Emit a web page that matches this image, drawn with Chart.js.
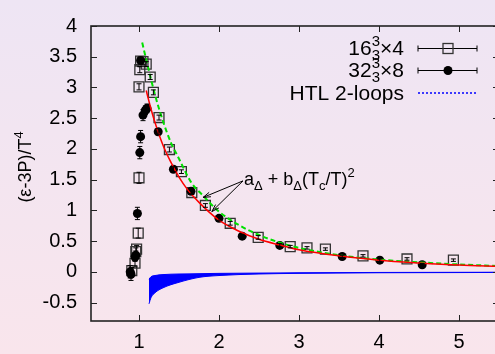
<!DOCTYPE html>
<html>
<head>
<meta charset="utf-8">
<script src="https://cdn.jsdelivr.net/npm/chart.js@4/dist/chart.umd.min.js"></script>
<style>
  html, body { margin: 0; padding: 0; overflow: hidden; background: #f4e6f0; }
  #wrap { position: absolute; left: 0; top: 0; width: 510px; height: 354px; }
</style>
</head>
<body>
<div id="wrap"><canvas id="chart" width="510" height="354"></canvas></div>
<script>
// 16^3 x 4 lattice (open squares)
const sqX   = [0.91, 0.95, 0.96, 0.97, 0.99, 1.00, 1.00, 1.01, 1.02, 1.05, 1.09, 1.14, 1.18, 1.25, 1.38, 1.53, 1.66, 1.83, 2.14, 2.49, 2.89, 3.10, 3.33, 3.80, 4.35, 4.93];
const sqY   = [0.02, 0.14, 0.33, 0.37, 0.63, 1.53, 3.01, 3.29, 3.43, 3.42, 3.38, 3.17, 2.92, 2.51, 1.99, 1.63, 1.29, 1.08, 0.79, 0.56, 0.41, 0.39, 0.37, 0.26, 0.21, 0.19];
const sqErr = [0.05, 0.06, 0.06, 0.06, 0.08, 0.09, 0.05, 0.05, 0.05, 0.04, 0.04, 0.04, 0.04, 0.04, 0.04, 0.03, 0.03, 0.03, 0.03, 0.03, 0.02, 0.02, 0.02, 0.02, 0.02, 0.02];

// 32^3 x 8 lattice (filled circles)
const ciX   = [0.89, 0.90, 0.95, 0.96, 0.98, 1.01, 1.02, 1.02, 1.05, 1.08, 1.10, 1.24, 1.43, 1.65, 2.00, 2.29, 2.76, 3.54, 4.01, 4.54];
const ciY   = [0.00, -0.04, 0.24, 0.27, 0.95, 1.94, 2.20, 3.44, 2.55, 2.63, 2.66, 2.28, 1.67, 1.31, 0.87, 0.58, 0.43, 0.25, 0.19, 0.115];
const ciErr = [0.10, 0.10, 0.07, 0.07, 0.10, 0.10, 0.10, 0.05, 0.09, 0.07, 0.07, 0.05, 0.04, 0.04, 0.04, 0.03, 0.03, 0.02, 0.02, 0.02];

// fit curves a + b (Tc/T)^2
const redX   = [1.09, 1.15, 1.2, 1.3, 1.4, 1.5, 1.6, 1.75, 2.0, 2.25, 2.5, 2.75, 3.0, 3.5, 4.0, 4.5, 5.0, 5.5];
const redY   = [2.95, 2.65, 2.43, 2.06, 1.78, 1.54, 1.35, 1.13, 0.84, 0.66, 0.53, 0.44, 0.36, 0.26, 0.19, 0.145, 0.11, 0.09];
const greenX = [1.04, 1.1, 1.2, 1.3, 1.4, 1.5, 1.65, 1.8, 2.0, 2.25, 2.5, 2.75, 3.0, 3.5, 4.0, 4.5, 5.0, 5.5];
const greenY = [3.73, 3.40, 2.88, 2.45, 2.10, 1.84, 1.46, 1.24, 0.98, 0.76, 0.60, 0.48, 0.39, 0.27, 0.20, 0.155, 0.12, 0.095];

// HTL 2-loop band
const htlX      = [1.125, 1.15, 1.2, 1.3, 1.5, 1.75, 2.0, 2.5, 3.0, 4.0, 5.0, 5.5];
const htlTop    = [-0.12, -0.08, -0.06, -0.045, -0.035, -0.03, -0.025, -0.02, -0.015, -0.01, -0.008, -0.007];
const htlBottom = [-0.52, -0.42, -0.34, -0.26, -0.17, -0.09, -0.06, -0.035, -0.025, -0.015, -0.012, -0.01];

const xTicks = [1, 2, 3, 4, 5];
const yTicks = [-0.5, 0, 0.5, 1, 1.5, 2, 2.5, 3, 3.5, 4];

// ^ = superscript, _ = subscript (a _ right after a ^ sits under it)
const legendLabels = ['16^3_3×4', '32^3_3×8', 'HTL 2-loops'];
const fitLabel = 'a_Δ + b_Δ(T_c/T)^2';
const yTitle = '(ε-3P)/T^4';

const FONT = '"Liberation Sans", Arial, sans-serif';

const pts = (xs, ys) => xs.map((x, i) => ({ x: x, y: ys[i] }));

function richParts(str) {
  const parts = [];
  for (let i = 0; i < str.length; i++) {
    const c = str[i];
    if ((c === '^' || c === '_') && i + 1 < str.length) {
      const prev = parts[parts.length - 1];
      const p = { t: str[i + 1], mode: c === '^' ? 'sup' : 'sub' };
      if (prev && prev.mode === 'sup' && p.mode === 'sub') p.overlay = true;
      parts.push(p);
      i++;
    } else {
      parts.push({ t: c, mode: 'n' });
    }
  }
  return parts;
}

// draws rich text with baseline y; align 'left' | 'right' | 'center'
function drawRich(ctx, str, x, y, size, align) {
  const small = Math.round(size * 0.72);
  let w = 0, prevX = 0;
  const items = richParts(str).map(p => {
    const fs = p.mode === 'n' ? size : small;
    ctx.font = fs + 'px ' + FONT;
    const pw = ctx.measureText(p.t).width;
    let px;
    if (p.overlay) { px = prevX; w = Math.max(w, px + pw); }
    else { px = w; w += pw; }
    prevX = px;
    return { t: p.t, mode: p.mode, fs: fs, px: px };
  });
  let x0 = x;
  if (align === 'right') x0 = x - w;
  if (align === 'center') x0 = x - w / 2;
  ctx.textAlign = 'left';
  ctx.textBaseline = 'alphabetic';
  items.forEach(it => {
    ctx.font = it.fs + 'px ' + FONT;
    let dy = 0;
    if (it.mode === 'sup') dy = -size * 0.42;
    if (it.mode === 'sub') dy = size * 0.26;
    ctx.fillText(it.t, x0 + it.px, y + dy);
  });
}

const backdrop = {
  id: 'backdrop',
  beforeDraw(chart) {
    const ctx = chart.ctx;
    const g = ctx.createLinearGradient(0, 0, 0, chart.height);
    g.addColorStop(0, '#eee5f4');
    g.addColorStop(1, '#f9e5ec');
    ctx.save();
    ctx.fillStyle = g;
    ctx.fillRect(0, 0, chart.width, chart.height);
    ctx.restore();
  }
};

const errorBars = {
  id: 'errorBars',
  afterDatasetsDraw(chart) {
    const ctx = chart.ctx;
    const ys = chart.scales.y;
    ctx.save();
    ctx.strokeStyle = '#000';
    ctx.lineWidth = 1;
    chart.data.datasets.forEach((ds, di) => {
      if (!ds.errors) return;
      const meta = chart.getDatasetMeta(di);
      meta.data.forEach((el, i) => {
        const v = ds.data[i].y, e = ds.errors[i];
        const px = el.x;
        const y1 = ys.getPixelForValue(v + e), y2 = ys.getPixelForValue(v - e);
        ctx.beginPath();
        ctx.moveTo(px, y1); ctx.lineTo(px, y2);
        ctx.moveTo(px - 2.5, y1); ctx.lineTo(px + 2.5, y1);
        ctx.moveTo(px - 2.5, y2); ctx.lineTo(px + 2.5, y2);
        ctx.stroke();
      });
    });
    ctx.restore();
  }
};

const frame = {
  id: 'frame',
  afterDraw(chart) {
    const ctx = chart.ctx;
    const a = chart.chartArea;
    const xs = chart.scales.x, ys = chart.scales.y;
    ctx.save();
    ctx.strokeStyle = '#222';
    ctx.lineWidth = 1;
    ctx.beginPath();
    xTicks.forEach(v => {
      const p = Math.round(xs.getPixelForValue(v)) + 0.5;
      ctx.moveTo(p, a.bottom); ctx.lineTo(p, a.bottom - 6);
      ctx.moveTo(p, a.top); ctx.lineTo(p, a.top + 6);
    });
    yTicks.forEach(v => {
      const p = Math.round(ys.getPixelForValue(v)) + 0.5;
      ctx.moveTo(a.left, p); ctx.lineTo(a.left + 6, p);
      ctx.moveTo(a.right, p); ctx.lineTo(a.right - 6, p);
    });
    ctx.stroke();
    ctx.lineWidth = 1.6;
    ctx.strokeRect(a.left, a.top, a.right - a.left, a.bottom - a.top);

    // y title
    ctx.fillStyle = '#000';
    ctx.save();
    ctx.translate(31, 167);
    ctx.rotate(-Math.PI / 2);
    drawRich(ctx, yTitle, 0, 0, 18, 'center');
    ctx.restore();

    // legend
    const rows = [48, 70, 93];
    const lx1 = 418, lx2 = 477, lm = 448;
    legendLabels.forEach((lab, i) => {
      ctx.fillStyle = '#000';
      drawRich(ctx, lab, 404, rows[i] + 7, 21, 'right');
    });
    ctx.strokeStyle = '#000';
    ctx.lineWidth = 1;
    [0, 1].forEach(i => {
      const y = rows[i] + 0.5;
      ctx.beginPath();
      ctx.moveTo(lx1, y); ctx.lineTo(lx2, y);
      ctx.moveTo(lx1, y - 3); ctx.lineTo(lx1, y + 3);
      ctx.moveTo(lx2, y - 3); ctx.lineTo(lx2, y + 3);
      ctx.stroke();
    });
    ctx.strokeStyle = '#333';
    ctx.lineWidth = 1.3;
    ctx.strokeRect(lm - 5, rows[0] - 4.5, 10, 10);
    ctx.fillStyle = '#000';
    ctx.beginPath();
    ctx.arc(lm, rows[1] + 0.5, 4.5, 0, Math.PI * 2);
    ctx.fill();
    ctx.strokeStyle = '#0000ff';
    ctx.lineWidth = 1.5;
    ctx.setLineDash([2, 2]);
    ctx.beginPath();
    ctx.moveTo(lx1, rows[2]); ctx.lineTo(lx2, rows[2]);
    ctx.stroke();
    ctx.setLineDash([]);

    // fit annotation with arrows
    const sx = xs.getPixelForValue(2.3), sy = ys.getPixelForValue(1.48);
    ctx.fillStyle = '#000';
    drawRich(ctx, fitLabel, sx + 1, sy + 4, 18, 'left');
    ctx.strokeStyle = '#000';
    ctx.lineWidth = 1;
    [[1.8, 1.21], [1.91, 0.98]].forEach(t => {
      const tx = xs.getPixelForValue(t[0]), ty = ys.getPixelForValue(t[1]);
      const ang = Math.atan2(ty - sy, tx - sx);
      ctx.beginPath();
      ctx.moveTo(sx, sy); ctx.lineTo(tx, ty);
      ctx.moveTo(tx - 8 * Math.cos(ang - 0.3), ty - 8 * Math.sin(ang - 0.3));
      ctx.lineTo(tx, ty);
      ctx.lineTo(tx - 8 * Math.cos(ang + 0.3), ty - 8 * Math.sin(ang + 0.3));
      ctx.stroke();
    });
    ctx.restore();
  }
};

new Chart(document.getElementById('chart').getContext('2d'), {
  type: 'line',
  data: {
    datasets: [
      { data: pts(redX, redY), borderColor: '#ff0000', borderWidth: 1.5, pointRadius: 0,
        cubicInterpolationMode: 'monotone', fill: false },
      { data: pts(greenX, greenY), borderColor: '#00e000', borderWidth: 2, borderDash: [5, 3],
        pointRadius: 0, cubicInterpolationMode: 'monotone', fill: false },
      { data: pts(ciX, ciY), errors: ciErr, showLine: false, pointStyle: 'circle', pointRadius: 4.5,
        backgroundColor: '#000', borderColor: '#000', borderWidth: 0 },
      { data: pts(sqX, sqY), errors: sqErr, showLine: false, pointStyle: 'rect', pointRadius: 7,
        backgroundColor: 'rgba(0,0,0,0)', borderColor: '#333', borderWidth: 1.3 },
      { data: pts(htlX, htlTop), borderColor: '#0000ff', backgroundColor: '#0000ff', borderWidth: 1,
        pointRadius: 0, cubicInterpolationMode: 'monotone', fill: '+1' },
      { data: pts(htlX, htlBottom), borderColor: '#0000ff', borderWidth: 1, pointRadius: 0,
        cubicInterpolationMode: 'monotone', fill: false }
    ]
  },
  options: {
    responsive: false,
    animation: false,
    layout: { padding: { top: 16, right: 11, left: 0, bottom: 0 } },
    plugins: { legend: { display: false }, tooltip: { enabled: false } },
    scales: {
      x: {
        type: 'linear', min: 0.4, max: 5.5,
        afterBuildTicks: s => { s.ticks = xTicks.map(v => ({ value: v })); },
        afterFit: s => { s.height = 33; },
        grid: { display: false, drawTicks: false },
        border: { display: false },
        ticks: { font: { family: FONT, size: 20 }, color: '#000', padding: 9,
                 maxRotation: 0, autoSkip: false, callback: v => String(v) }
      },
      y: {
        type: 'linear', min: -0.8, max: 4,
        afterBuildTicks: s => { s.ticks = yTicks.map(v => ({ value: v })); },
        afterFit: s => { s.width = 91; },
        grid: { display: false, drawTicks: false },
        border: { display: false },
        ticks: { font: { family: FONT, size: 20 }, color: '#000', padding: 14,
                 autoSkip: false, callback: v => String(v) }
      }
    }
  },
  plugins: [backdrop, errorBars, frame]
});
</script>
</body>
</html>
